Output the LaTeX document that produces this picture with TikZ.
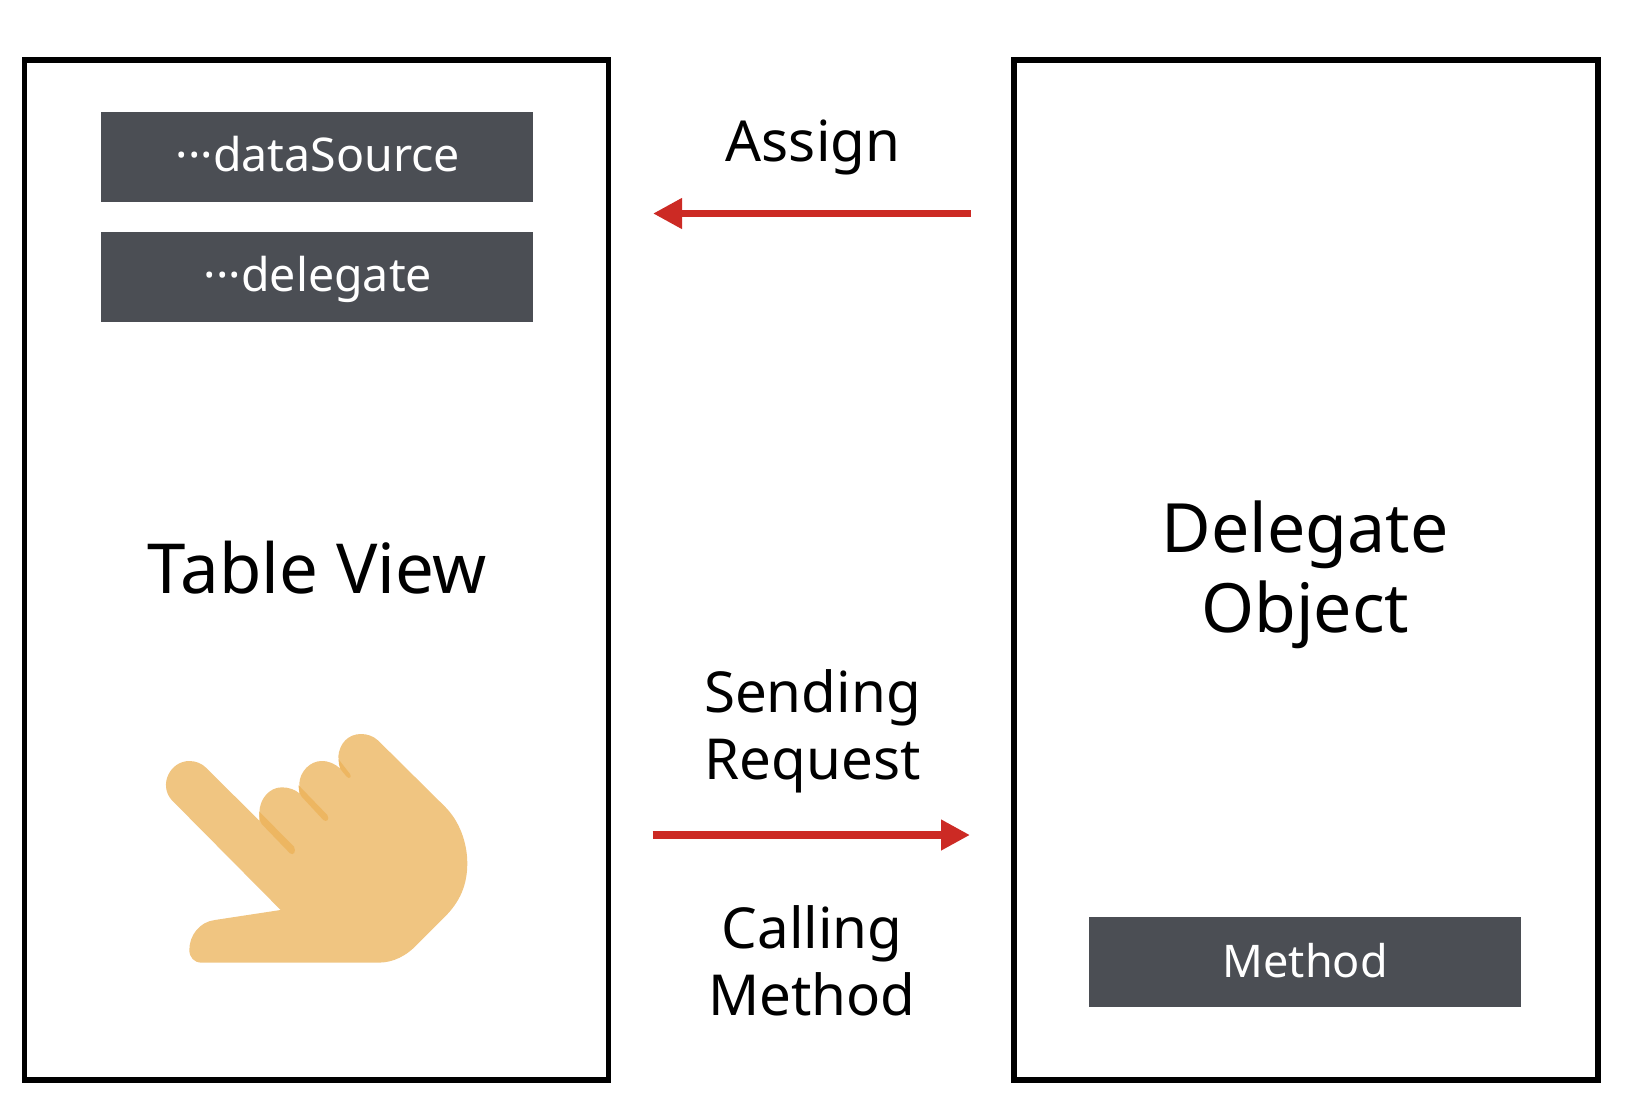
\documentclass[tikz,border=0pt]{standalone}
\usepackage{fontspec}
\setmainfont{Noto Sans}
\usetikzlibrary{arrows.meta}

\definecolor{boxgray}{HTML}{4B4E54}
\definecolor{arrowred}{HTML}{CC2A24}
\definecolor{skin}{HTML}{F0C581}
\definecolor{skindark}{HTML}{EDB661}

\tikzset{
  panel/.style={draw=black,line width=5.5pt,minimum width=#1,minimum height=1020pt,inner sep=0pt},
  tag/.style={fill=boxgray,text=white,minimum width=432pt,minimum height=90pt,inner sep=0pt,text height=40pt,text depth=10pt,font=\fontsize{46.5}{46.5}\selectfont},
  bigtext/.style={align=center,font=\fontsize{69}{80}\selectfont},
  sidetext/.style={align=center,font=\fontsize{56.5}{67}\selectfont},
  redarrow/.style={draw=arrowred,line width=7.5pt,-{Triangle[length=29pt,width=29pt,fill=arrowred]}}
}

\begin{document}
\begin{tikzpicture}[x=1pt,y=-1pt]
\useasboundingbox (0,0) rectangle (1628,1112);

% the two big boxes
\node [panel=584pt] (tableview) at (316.7,570) {};
\node [panel=584pt] (delegateobj) at (1305.8,570) {};

% inner grey boxes
\node [tag] (datasource) at (317,156.7) {\kern2pt ···dataSource};
\node [tag] (delegate) at (317,276.7) {\kern2pt ···delegate};
\node [tag] (method) at (1305.3,962) {\fontsize{45}{45}\selectfont Method};

% texts in the boxes
\node [bigtext] (tablelabel) at (317.3,568) {Table View};
\node [bigtext,font=\fontsize{68}{80}\selectfont] (objlabel) at (1305.3,575) {Delegate\\Object};

% texts in the middle
\node [sidetext] (assign) at (813,147) {Assign};
\node [sidetext] (sending) at (812.5,731) {Sending\\Request};
\node [sidetext] (calling) at (812,961) {Calling\\Method};

%% The arrows
\coordinate (assignstart) at (970.5,213.5);
\coordinate (assignend) at (653,213.5);
\coordinate (sendstart) at (652.5,835);
\coordinate (sendend) at (970,835);
\draw [redarrow] (assignstart) -- (assignend);
\draw [redarrow] (sendstart) -- (sendend);

%% The hand
\begin{scope}[shift={(130,700)},x=0.3333pt,y=-0.3333pt]
\fill [skin] (452,630) -- (125,300) .. controls (85,255) and (120,183) .. (178,183)
  .. controls (197,183) and (215,190) .. (228,203) -- (388,362)
  -- (388,340) .. controls (388,295) and (420,262) .. (455,262)
  .. controls (475,262) and (495,268) .. (508,280)
  -- (508,250) .. controls (510,215) and (540,183) .. (575,183)
  .. controls (598,183) and (615,192) .. (630,205)
  -- (625,170) .. controls (628,130) and (655,102) .. (693,102)
  .. controls (712,102) and (730,108) .. (745,122)
  -- (945,320) .. controls (990,365) and (1012,430) .. (1012,490)
  .. controls (1012,555) and (990,605) .. (945,650)
  -- (865,730) .. controls (830,768) and (790,788) .. (745,788)
  -- (215,788) .. controls (192,788) and (178,772) .. (178,750)
  .. controls (178,705) and (210,665) .. (255,660) -- cycle;
% shadows between the fingers
\fill [skindark] (388,335) -- (492,440) .. controls (500,455) and (490,468) .. (480,460) -- (395,372) .. controls (388,362) and (388,350) .. (388,335) -- cycle;
\fill [skindark] (506,256) -- (592,345) .. controls (600,358) and (590,368) .. (580,360) -- (515,290) .. controls (508,280) and (506,270) .. (506,256) -- cycle;
\fill [skindark] (626,178) -- (660,222) .. controls (666,232) and (658,238) .. (650,230) -- (632,208) .. controls (628,200) and (626,190) .. (626,178) -- cycle;
\end{scope}

\end{tikzpicture}
\end{document}
